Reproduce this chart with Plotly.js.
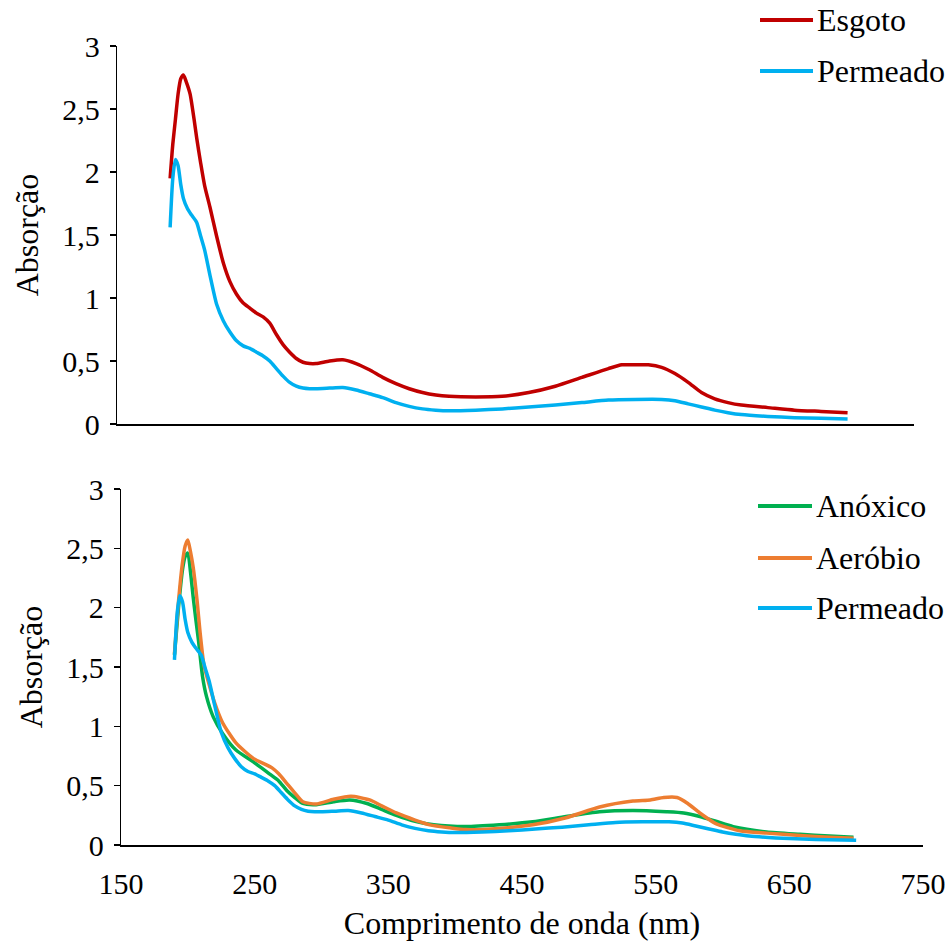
<!DOCTYPE html>
<html>
<head>
<meta charset="utf-8">
<script src="https://cdn.plot.ly/plotly-3.0.1.min.js"></script>
<style>html,body{margin:0;padding:0;background:#fff}#chart{width:948px;height:941px}</style>
</head>
<body>
<div id="chart"></div>
<script>
// ---- data ----
const esgotoX = [190,192,194,196,198,200,202,205,208,210,213,216,220,225,230,235,240,245,250,255,260,265,270,275,280,285,290,295,300,310,320,330,340,350,360,370,380,390,400,420,440,460,480,500,520,530,540,550,560,570,580,590,600,610,620,640,660,680,700];
const esgotoY = [1.95,2.22,2.42,2.62,2.74,2.77,2.72,2.62,2.42,2.27,2.07,1.89,1.72,1.49,1.28,1.13,1.03,0.96,0.92,0.88,0.85,0.80,0.71,0.63,0.57,0.52,0.49,0.48,0.48,0.50,0.51,0.48,0.43,0.37,0.32,0.28,0.25,0.23,0.22,0.215,0.22,0.25,0.30,0.37,0.44,0.47,0.47,0.47,0.45,0.40,0.33,0.25,0.20,0.17,0.15,0.13,0.11,0.10,0.09];

const permeadoX = [190,192,194,196,198,200,203,206,210,213,216,220,225,230,235,240,245,250,255,260,265,270,275,280,285,290,295,300,310,320,330,340,350,360,370,380,390,400,420,440,460,480,500,520,540,560,570,580,590,600,610,620,640,660,680,700];
const permeadoY = [1.56,1.95,2.10,2.05,1.90,1.79,1.71,1.66,1.60,1.49,1.38,1.18,0.95,0.82,0.73,0.66,0.62,0.60,0.57,0.54,0.50,0.44,0.38,0.33,0.30,0.285,0.28,0.28,0.285,0.29,0.27,0.24,0.21,0.17,0.14,0.12,0.11,0.105,0.11,0.12,0.135,0.15,0.17,0.19,0.195,0.195,0.185,0.16,0.135,0.11,0.09,0.075,0.06,0.05,0.045,0.04];

const anoxicoX = [190,193,196,198,200,202,204,206,208,211,214,219,226,236,249,261,268,274,280,286,296,309,321,334,345,356,370,384,408,433,458,483,508,533,558,571,583,595,608,633,658,680,698];
const anoxicoY = [1.60,2.00,2.32,2.43,2.46,2.30,2.09,1.90,1.72,1.42,1.25,1.08,0.94,0.80,0.70,0.60,0.54,0.46,0.40,0.35,0.34,0.365,0.38,0.35,0.30,0.25,0.20,0.17,0.155,0.17,0.195,0.24,0.28,0.29,0.28,0.27,0.24,0.20,0.155,0.11,0.09,0.075,0.065];

const aerobioX = [190,193,196,198,200,202,204,207,209,212,215,220,226,236,249,263,268,274,280,286,296,309,322,336,345,356,370,381,396,408,433,458,483,508,533,546,556,566,574,583,595,613,633,658,680,698];
const aerobioY = [1.61,2.05,2.38,2.52,2.57,2.47,2.34,2.05,1.81,1.52,1.39,1.20,1.03,0.86,0.73,0.65,0.60,0.52,0.44,0.365,0.345,0.385,0.41,0.38,0.33,0.27,0.21,0.17,0.145,0.13,0.14,0.17,0.23,0.32,0.37,0.38,0.40,0.40,0.35,0.27,0.18,0.12,0.10,0.08,0.065,0.056];

const xTicks = [150,250,350,450,550,650,750];
const yTicks = [0,0.5,1,1.5,2,2.5,3];

const colors = {esgoto:'#C00000', permeado:'#00B0F0', anoxico:'#00B050', aerobio:'#ED7D31'};

// ---- layout geometry (pixels) ----
const W = 948, H = 941;
const M = {l:117, r:25, t:46, b:96};
const PW = W - M.l - M.r, PH = H - M.t - M.b;
const px2x = p => (p - M.l) / PW;
const py2y = p => (H - M.b - p) / PH;

const FONT = "'Liberation Serif', 'Times New Roman', Times, serif";
const FS_TICK = 30;
const FS_TEXT = 32;

function tr(x, y, name, color, xa, ya) {
  return {x, y, name, type:'scatter', mode:'lines', xaxis:xa, yaxis:ya,
    line:{color, width:3.5, shape:'spline', smoothing:0.6}, showlegend:false, hoverinfo:'skip'};
}

const data = [
  tr(esgotoX, esgotoY, 'Esgoto', colors.esgoto, 'x', 'y'),
  tr(permeadoX, permeadoY, 'Permeado', colors.permeado, 'x', 'y'),
  tr(anoxicoX, anoxicoY, 'Anóxico', colors.anoxico, 'x2', 'y2'),
  tr(aerobioX, aerobioY, 'Aeróbio', colors.aerobio, 'x2', 'y2'),
  tr(permeadoX, permeadoY, 'Permeado', colors.permeado, 'x2', 'y2')
];

const yAxisBase = {
  range:[0,3], tickvals:yTicks, ticks:'outside', ticklen:6, tickwidth:1.3, tickcolor:'#000',
  showline:true, linecolor:'#000', linewidth:1.3, showgrid:false, zeroline:false,
  tickfont:{family:FONT, size:FS_TICK, color:'#000'}, ticklabelstandoff:4,
  title:{text:'Absorção', font:{family:FONT, size:FS_TEXT, color:'#000'}, standoff:14}
};

const layout = {
  width:W, height:H, margin:M, paper_bgcolor:'#fff', plot_bgcolor:'#fff',
  separators:',.', showlegend:false,
  font:{family:FONT, size:FS_TICK, color:'#000'},
  xaxis:{domain:[0, px2x(914)], range:[150,750], anchor:'y', showline:true, linecolor:'#000', linewidth:1.6,
    showgrid:false, zeroline:false, showticklabels:false, ticks:''},
  yaxis:Object.assign({}, yAxisBase, {domain:[py2y(424), 1], anchor:'x'}),
  xaxis2:{domain:[px2x(121), 1], range:[150,750], anchor:'y2', showline:true, linecolor:'#000', linewidth:2.2,
    showgrid:false, zeroline:false, tickvals:xTicks, ticks:'', ticklabelstandoff:11,
    tickfont:{family:FONT, size:FS_TICK, color:'#000'},
    title:{text:'Comprimento de onda (nm)', font:{family:FONT, size:FS_TEXT, color:'#000'}, standoff:16}},
  yaxis2:Object.assign({}, yAxisBase, {domain:[0, py2y(489)], anchor:'x2'}),
  shapes:[], annotations:[]
};

// custom legends (line sample + label)
const legendItems = [
  {name:'Esgoto', color:colors.esgoto, y:20, x0:760, x1:813},
  {name:'Permeado', color:colors.permeado, y:71, x0:760, x1:813},
  {name:'Anóxico', color:colors.anoxico, y:506, x0:758, x1:812},
  {name:'Aeróbio', color:colors.aerobio, y:558, x0:758, x1:812},
  {name:'Permeado', color:colors.permeado, y:608, x0:758, x1:812}
];
legendItems.forEach(it => {
  layout.shapes.push({type:'line', xref:'paper', yref:'paper', x0:px2x(it.x0), x1:px2x(it.x1),
    y0:py2y(it.y), y1:py2y(it.y), line:{color:it.color, width:4}});
  layout.annotations.push({xref:'paper', yref:'paper', x:px2x(it.x1+2), y:py2y(it.y), xanchor:'left', yanchor:'middle',
    text:it.name, showarrow:false, font:{family:FONT, size:FS_TEXT, color:'#000'}});
});

Plotly.newPlot('chart', data, layout, {staticPlot:true, displayModeBar:false});
</script>
</body>
</html>
